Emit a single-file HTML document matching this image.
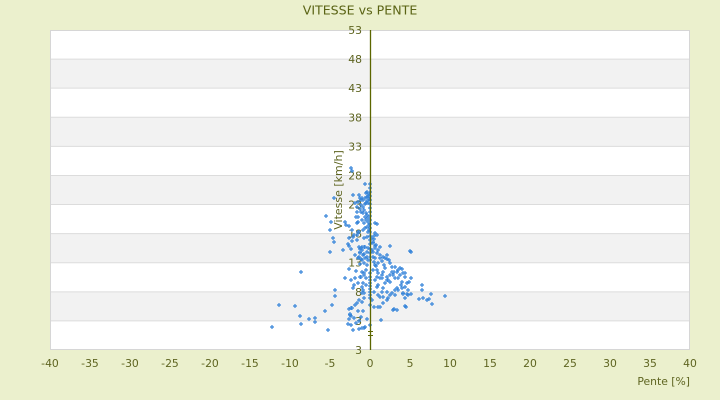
<!DOCTYPE html>
<html><head><meta charset="utf-8"><style>
html,body{margin:0;padding:0;background:#ebf0cd;}
svg{display:block;font-family:"DejaVu Sans","Liberation Sans",sans-serif;}
</style></head><body>
<svg width="720" height="400" viewBox="0 0 720 400" xmlns="http://www.w3.org/2000/svg">
<rect x="0" y="0" width="720" height="400" fill="#ebf0cd"/>
<text x="360" y="14.5" text-anchor="middle" font-size="12.6" fill="#5a6314">VITESSE vs PENTE</text>
<rect x="50" y="30" width="640" height="320" fill="#ffffff"/>
<g fill="#f2f2f2">
<rect x="50" y="59.09" width="640" height="29.09"/>
<rect x="50" y="117.27" width="640" height="29.09"/>
<rect x="50" y="175.45" width="640" height="29.09"/>
<rect x="50" y="233.64" width="640" height="29.09"/>
<rect x="50" y="291.82" width="640" height="29.09"/>
</g>
<g stroke="#dcdcdc" stroke-width="1">
<line x1="50" y1="59.09" x2="690" y2="59.09"/>
<line x1="50" y1="88.18" x2="690" y2="88.18"/>
<line x1="50" y1="117.27" x2="690" y2="117.27"/>
<line x1="50" y1="146.36" x2="690" y2="146.36"/>
<line x1="50" y1="175.45" x2="690" y2="175.45"/>
<line x1="50" y1="204.55" x2="690" y2="204.55"/>
<line x1="50" y1="233.64" x2="690" y2="233.64"/>
<line x1="50" y1="262.73" x2="690" y2="262.73"/>
<line x1="50" y1="291.82" x2="690" y2="291.82"/>
<line x1="50" y1="320.91" x2="690" y2="320.91"/>
</g>
<rect x="50.5" y="30.5" width="639" height="319" fill="none" stroke="#d6d6d6" stroke-width="1"/>
<g font-size="10.8" fill="#5e6420" text-anchor="end">
<text x="362" y="34">53</text>
<text x="362" y="63.1">48</text>
<text x="362" y="92.2">43</text>
<text x="362" y="121.3">38</text>
<text x="362" y="150.4">33</text>
<text x="362" y="179.5">28</text>
<text x="362" y="208.5">23</text>
<text x="362" y="237.6">18</text>
<text x="362" y="266.7">13</text>
<text x="362" y="295.8">8</text>
<text x="362" y="324.9">3</text>
<text x="362" y="354">3</text>
</g>
<text transform="translate(342,190) rotate(-90)" text-anchor="middle" font-size="11" fill="#5e6420">Vitesse [km/h]</text>
<g font-size="10.8" fill="#5e6420" text-anchor="middle">
<text x="50" y="367">-40</text>
<text x="90" y="367">-35</text>
<text x="130" y="367">-30</text>
<text x="170" y="367">-25</text>
<text x="210" y="367">-20</text>
<text x="250" y="367">-15</text>
<text x="290" y="367">-10</text>
<text x="330" y="367">-5</text>
<text x="370" y="367">0</text>
<text x="410" y="367">5</text>
<text x="450" y="367">10</text>
<text x="490" y="367">15</text>
<text x="530" y="367">20</text>
<text x="570" y="367">25</text>
<text x="610" y="367">30</text>
<text x="650" y="367">35</text>
<text x="690" y="367">40</text>
</g>
<text x="690" y="385" text-anchor="end" font-size="10.8" fill="#5e6420">Pente [%]</text>
<path fill="none" stroke="#3a87da" stroke-width="1.2" d="
M272 327m-2 0h4m-2-2v4 M279 305m-2 0h4m-2-2v4 M295 306m-2 0h4m-2-2v4 M300 316m-2 0h4m-2-2v4 M301 324m-2 0h4m-2-2v4 M309 319m-2 0h4m-2-2v4 M315 318m-2 0h4m-2-2v4 M315 322m-2 0h4m-2-2v4 M301 272m-2 0h4m-2-2v4 M328 330m-2 0h4m-2-2v4 M325 311m-2 0h4m-2-2v4 M332 305m-2 0h4m-2-2v4 M335 296m-2 0h4m-2-2v4 M335 290m-2 0h4m-2-2v4 M330 252m-2 0h4m-2-2v4 M334 242m-2 0h4m-2-2v4 M333 238m-2 0h4m-2-2v4 M330 230m-2 0h4m-2-2v4 M331 222m-2 0h4m-2-2v4 M326 216m-2 0h4m-2-2v4 M334 198m-2 0h4m-2-2v4 M345 222m-2 0h4m-2-2v4 M343 250m-2 0h4m-2-2v4 M349 226m-2 0h4m-2-2v4 M348 244m-2 0h4m-2-2v4 M349 246m-2 0h4m-2-2v4 M345 278m-2 0h4m-2-2v4 M349 269m-2 0h4m-2-2v4 M351 168m-2 0h4m-2-2v4 M352 171m-2 0h4m-2-2v4 M353 195m-2 0h4m-2-2v4 M356 217m-2 0h4m-2-2v4 M358 222m-2 0h4m-2-2v4 M359 195m-2 0h4m-2-2v4 M355 203m-2 0h4m-2-2v4 M357 235m-2 0h4m-2-2v4 M353 237m-2 0h4m-2-2v4 M356 271m-2 0h4m-2-2v4 M354 285m-2 0h4m-2-2v4 M353 288m-2 0h4m-2-2v4 M351 308m-2 0h4m-2-2v4 M349 309m-2 0h4m-2-2v4 M350 314m-2 0h4m-2-2v4 M351 316m-2 0h4m-2-2v4 M349 319m-2 0h4m-2-2v4 M348 324m-2 0h4m-2-2v4 M351 325m-2 0h4m-2-2v4 M353 330m-2 0h4m-2-2v4 M354 318m-2 0h4m-2-2v4 M356 323m-2 0h4m-2-2v4 M359 329m-2 0h4m-2-2v4 M359 321m-2 0h4m-2-2v4 M361 317m-2 0h4m-2-2v4 M364 328m-2 0h4m-2-2v4 M358 311m-2 0h4m-2-2v4 M357 303m-2 0h4m-2-2v4 M359 300m-2 0h4m-2-2v4 M363 311m-2 0h4m-2-2v4 M362 293m-2 0h4m-2-2v4 M362 287m-2 0h4m-2-2v4 M363 283m-2 0h4m-2-2v4 M361 277m-2 0h4m-2-2v4 M364 273m-2 0h4m-2-2v4 M360 264m-2 0h4m-2-2v4 M361 259m-2 0h4m-2-2v4 M359 257m-2 0h4m-2-2v4 M364 254m-2 0h4m-2-2v4 M362 247m-2 0h4m-2-2v4 M365 247m-2 0h4m-2-2v4 M360 249m-2 0h4m-2-2v4 M365 184m-2 0h4m-2-2v4
M366 193m-2 0h4m-2-2v4 M367 192m-2 0h4m-2-2v4 M368 196m-2 0h4m-2-2v4 M369 194m-2 0h4m-2-2v4 M367 197m-2 0h4m-2-2v4 M365 198m-2 0h4m-2-2v4 M363 200m-2 0h4m-2-2v4 M369 199m-2 0h4m-2-2v4 M367 201m-2 0h4m-2-2v4 M366 203m-2 0h4m-2-2v4 M368 203m-2 0h4m-2-2v4 M365 204m-2 0h4m-2-2v4 M361 200m-2 0h4m-2-2v4 M362 198m-2 0h4m-2-2v4 M361 205m-2 0h4m-2-2v4 M363 207m-2 0h4m-2-2v4 M361 212m-2 0h4m-2-2v4 M357 212m-2 0h4m-2-2v4 M352 230m-2 0h4m-2-2v4 M358 232m-2 0h4m-2-2v4 M346 225m-2 0h4m-2-2v4 M349 238m-2 0h4m-2-2v4 M354 235m-2 0h4m-2-2v4 M352 241m-2 0h4m-2-2v4 M364 210m-2 0h4m-2-2v4 M366 213m-2 0h4m-2-2v4 M367 215m-2 0h4m-2-2v4 M365 217m-2 0h4m-2-2v4 M368 218m-2 0h4m-2-2v4 M366 220m-2 0h4m-2-2v4 M368 222m-2 0h4m-2-2v4 M369 225m-2 0h4m-2-2v4 M367 227m-2 0h4m-2-2v4 M365 228m-2 0h4m-2-2v4 M369 230m-2 0h4m-2-2v4 M368 232m-2 0h4m-2-2v4 M367 237m-2 0h4m-2-2v4 M364 238m-2 0h4m-2-2v4 M375 223m-2 0h4m-2-2v4 M377 224m-2 0h4m-2-2v4 M375 233m-2 0h4m-2-2v4 M374 236m-2 0h4m-2-2v4 M374 239m-2 0h4m-2-2v4 M373 242m-2 0h4m-2-2v4 M375 246m-2 0h4m-2-2v4 M364 247m-2 0h4m-2-2v4 M361 248m-2 0h4m-2-2v4 M380 247m-2 0h4m-2-2v4 M390 246m-2 0h4m-2-2v4
M362 250m-2 0h4m-2-2v4 M367 252m-2 0h4m-2-2v4 M372 250m-2 0h4m-2-2v4 M373 252m-2 0h4m-2-2v4 M375 248m-2 0h4m-2-2v4 M377 253m-2 0h4m-2-2v4 M378 250m-2 0h4m-2-2v4 M380 255m-2 0h4m-2-2v4 M373 257m-2 0h4m-2-2v4 M375 258m-2 0h4m-2-2v4 M368 260m-2 0h4m-2-2v4 M365 258m-2 0h4m-2-2v4 M363 255m-2 0h4m-2-2v4 M374 262m-2 0h4m-2-2v4 M378 263m-2 0h4m-2-2v4 M376 266m-2 0h4m-2-2v4 M380 258m-2 0h4m-2-2v4 M382 261m-2 0h4m-2-2v4 M383 257m-2 0h4m-2-2v4 M385 258m-2 0h4m-2-2v4 M387 255m-2 0h4m-2-2v4 M389 260m-2 0h4m-2-2v4 M384 265m-2 0h4m-2-2v4 M351 249m-2 0h4m-2-2v4 M359 247m-2 0h4m-2-2v4
M390 263m-2 0h4m-2-2v4 M392 267m-2 0h4m-2-2v4 M395 267m-2 0h4m-2-2v4 M398 270m-2 0h4m-2-2v4 M397 272m-2 0h4m-2-2v4 M400 275m-2 0h4m-2-2v4 M393 275m-2 0h4m-2-2v4 M395 278m-2 0h4m-2-2v4 M402 269m-2 0h4m-2-2v4 M403 273m-2 0h4m-2-2v4 M405 277m-2 0h4m-2-2v4 M402 282m-2 0h4m-2-2v4 M407 283m-2 0h4m-2-2v4 M405 287m-2 0h4m-2-2v4 M408 290m-2 0h4m-2-2v4 M403 293m-2 0h4m-2-2v4 M398 290m-2 0h4m-2-2v4 M397 288m-2 0h4m-2-2v4 M395 295m-2 0h4m-2-2v4 M390 295m-2 0h4m-2-2v4 M388 298m-2 0h4m-2-2v4 M393 310m-2 0h4m-2-2v4 M397 310m-2 0h4m-2-2v4 M405 298m-2 0h4m-2-2v4 M406 307m-2 0h4m-2-2v4 M408 295m-2 0h4m-2-2v4 M398 278m-2 0h4m-2-2v4 M394 272m-2 0h4m-2-2v4
M377 270m-2 0h4m-2-2v4 M378 273m-2 0h4m-2-2v4 M377 277m-2 0h4m-2-2v4 M382 278m-2 0h4m-2-2v4 M377 287m-2 0h4m-2-2v4 M378 295m-2 0h4m-2-2v4 M380 297m-2 0h4m-2-2v4 M374 307m-2 0h4m-2-2v4 M378 307m-2 0h4m-2-2v4 M385 268m-2 0h4m-2-2v4 M383 272m-2 0h4m-2-2v4 M387 277m-2 0h4m-2-2v4 M388 280m-2 0h4m-2-2v4 M385 283m-2 0h4m-2-2v4 M383 288m-2 0h4m-2-2v4 M387 292m-2 0h4m-2-2v4 M382 292m-2 0h4m-2-2v4 M375 265m-2 0h4m-2-2v4 M373 270m-2 0h4m-2-2v4 M375 280m-2 0h4m-2-2v4 M374 292m-2 0h4m-2-2v4 M381 320m-2 0h4m-2-2v4
M351 280m-2 0h4m-2-2v4 M355 278m-2 0h4m-2-2v4 M360 277m-2 0h4m-2-2v4 M358 283m-2 0h4m-2-2v4 M363 290m-2 0h4m-2-2v4 M366 285m-2 0h4m-2-2v4 M364 293m-2 0h4m-2-2v4 M364 298m-2 0h4m-2-2v4 M362 302m-2 0h4m-2-2v4 M355 305m-2 0h4m-2-2v4 M352 308m-2 0h4m-2-2v4 M350 315m-2 0h4m-2-2v4 M362 328m-2 0h4m-2-2v4 M367 319m-2 0h4m-2-2v4 M365 327m-2 0h4m-2-2v4 M362 272m-2 0h4m-2-2v4 M364 275m-2 0h4m-2-2v4 M366 278m-2 0h4m-2-2v4 M367 265m-2 0h4m-2-2v4 M364 263m-2 0h4m-2-2v4 M362 260m-2 0h4m-2-2v4 M358 258m-2 0h4m-2-2v4 M355 255m-2 0h4m-2-2v4 M360 253m-2 0h4m-2-2v4 M366 270m-2 0h4m-2-2v4
M422 285m-2 0h4m-2-2v4 M422 290m-2 0h4m-2-2v4 M431 294m-2 0h4m-2-2v4 M445 296m-2 0h4m-2-2v4 M432 304m-2 0h4m-2-2v4 M419 299m-2 0h4m-2-2v4 M423 298m-2 0h4m-2-2v4 M427 300m-2 0h4m-2-2v4 M429 299m-2 0h4m-2-2v4 M411 294m-2 0h4m-2-2v4 M407 294m-2 0h4m-2-2v4 M403 294m-2 0h4m-2-2v4 M394 309m-2 0h4m-2-2v4 M405 306m-2 0h4m-2-2v4 M401 285m-2 0h4m-2-2v4 M411 278m-2 0h4m-2-2v4 M409 282m-2 0h4m-2-2v4 M410 251m-2 0h4m-2-2v4 M411 252m-2 0h4m-2-2v4 M387 259m-2 0h4m-2-2v4
M400 268m-2 0h4m-2-2v4 M405 273m-2 0h4m-2-2v4 M392 272m-2 0h4m-2-2v4 M390 275m-2 0h4m-2-2v4 M382 275m-2 0h4m-2-2v4 M380 278m-2 0h4m-2-2v4 M387 280m-2 0h4m-2-2v4 M390 282m-2 0h4m-2-2v4 M378 285m-2 0h4m-2-2v4 M383 297m-2 0h4m-2-2v4 M392 293m-2 0h4m-2-2v4 M395 290m-2 0h4m-2-2v4 M402 288m-2 0h4m-2-2v4 M387 300m-2 0h4m-2-2v4 M383 303m-2 0h4m-2-2v4 M372 300m-2 0h4m-2-2v4 M380 307m-2 0h4m-2-2v4
M360 198m-2 0h4m-2-2v4 M358 202m-2 0h4m-2-2v4 M357 207m-2 0h4m-2-2v4 M360 209m-2 0h4m-2-2v4 M363 213m-2 0h4m-2-2v4 M358 217m-2 0h4m-2-2v4 M357 223m-2 0h4m-2-2v4 M362 220m-2 0h4m-2-2v4 M364 223m-2 0h4m-2-2v4 M363 230m-2 0h4m-2-2v4 M359 232m-2 0h4m-2-2v4 M357 240m-2 0h4m-2-2v4 M360 252m-2 0h4m-2-2v4 M368 248m-2 0h4m-2-2v4 M373 243m-2 0h4m-2-2v4 M376 245m-2 0h4m-2-2v4 M367 257m-2 0h4m-2-2v4 M377 235m-2 0h4m-2-2v4 M372 238m-2 0h4m-2-2v4
M370 184m-2 0h4m-2-2v4 M370 188m-2 0h4m-2-2v4 M370 192m-2 0h4m-2-2v4 M370 196m-2 0h4m-2-2v4 M370 200m-2 0h4m-2-2v4 M370 204m-2 0h4m-2-2v4 M370 208m-2 0h4m-2-2v4 M370 212m-2 0h4m-2-2v4 M370 216m-2 0h4m-2-2v4 M370 220m-2 0h4m-2-2v4 M370 224m-2 0h4m-2-2v4 M370 228m-2 0h4m-2-2v4 M370 232m-2 0h4m-2-2v4 M370 236m-2 0h4m-2-2v4 M370 240m-2 0h4m-2-2v4 M370 244m-2 0h4m-2-2v4 M370 249m-2 0h4m-2-2v4 M370 253m-2 0h4m-2-2v4 M370 257m-2 0h4m-2-2v4 M370 260m-2 0h4m-2-2v4 M370 273m-2 0h4m-2-2v4 M370 277m-2 0h4m-2-2v4 M370 280m-2 0h4m-2-2v4 M370 283m-2 0h4m-2-2v4 M370 286m-2 0h4m-2-2v4 M370 289m-2 0h4m-2-2v4 M370 292m-2 0h4m-2-2v4 M370 295m-2 0h4m-2-2v4 M370 298m-2 0h4m-2-2v4 M370 305m-2 0h4m-2-2v4 M370 325m-2 0h4m-2-2v4
"/>
<line x1="370.5" y1="30" x2="370.5" y2="350" stroke="#5c6600" stroke-width="1.3"/>
<g stroke="#5c6600" stroke-width="1">
<line x1="368" y1="331.5" x2="373" y2="331.5"/>
<line x1="368" y1="335.5" x2="373" y2="335.5"/>
</g>
</svg>
</body></html>
